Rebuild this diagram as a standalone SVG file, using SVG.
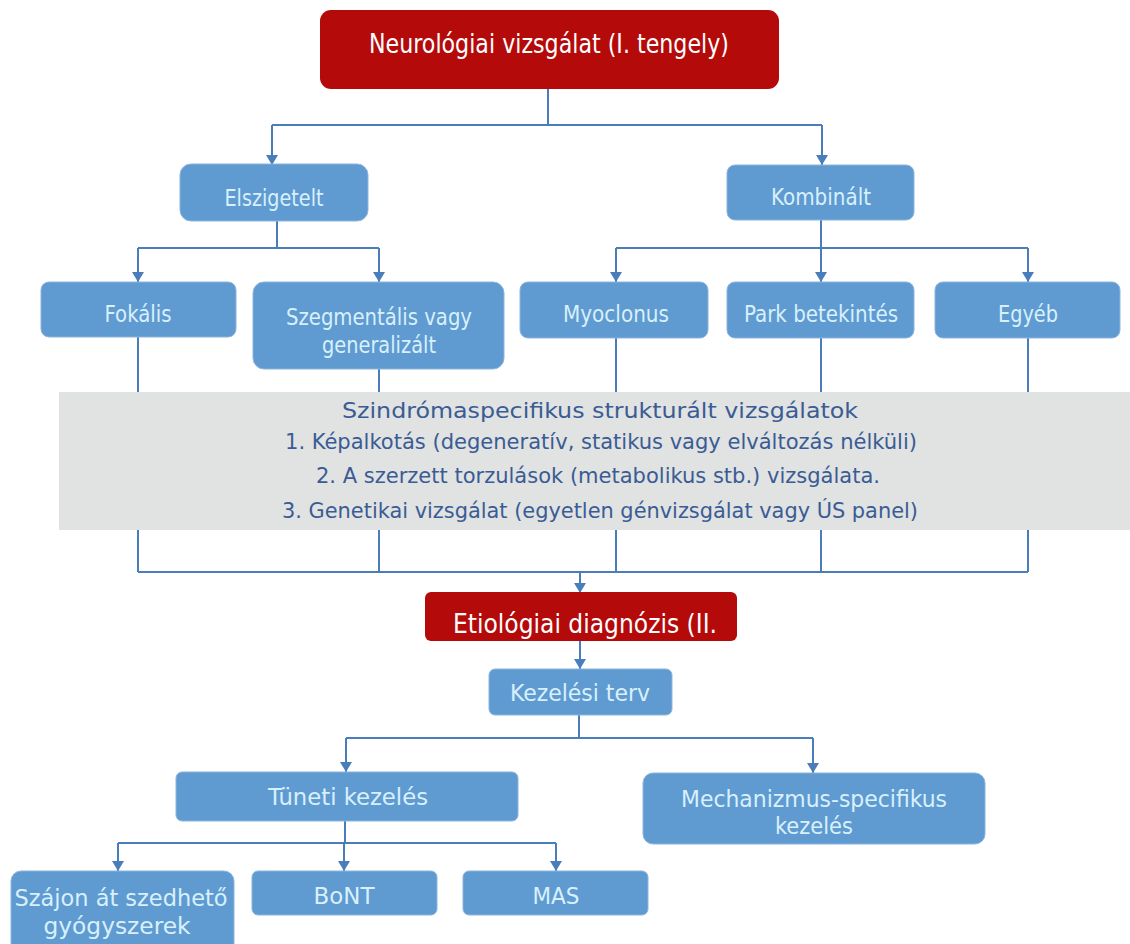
<svg xmlns="http://www.w3.org/2000/svg" width="1130" height="944" viewBox="0 0 1130 944">
<defs>
<marker id="arr" markerWidth="10" markerHeight="12" refX="10" refY="6" orient="auto" markerUnits="userSpaceOnUse" viewBox="0 0 10 12">
<path d="M0,0 L10,6 L0,12 Z" fill="#4A7EBB"/>
</marker>
<style>
.red{fill:#B50A0A;}
.blue{fill:#5F9BD1;stroke:#8DB5DE;stroke-width:1;}
.wt{fill:#FFFFFF;font-family:"DejaVu Sans Condensed","DejaVu Sans",sans-serif;font-size:26px;text-anchor:middle;}
.bt{fill:#D8F0FC;font-family:"DejaVu Sans Condensed","DejaVu Sans",sans-serif;font-size:23px;text-anchor:middle;}
.gt{fill:#3A5C94;font-family:"DejaVu Sans Condensed","DejaVu Sans",sans-serif;font-size:22px;text-anchor:middle;}
.c{fill:none;stroke:#4A7EBB;stroke-width:2;}
.ca{fill:none;stroke:#4A7EBB;stroke-width:2;marker-end:url(#arr);}
</style>
</defs>
<rect width="1130" height="944" fill="#FFFFFF"/>
<g id="connectors">
<path class="c" d="M548,89 V125 M272,125 H822"/>
<path class="ca" d="M272,125 V165"/>
<path class="ca" d="M822,125 V165"/>
<path class="c" d="M277,220 V248 M138,248 H379"/>
<path class="ca" d="M138,248 V282"/>
<path class="ca" d="M379,248 V282"/>
<path class="c" d="M821,220 V248 M616,248 H1028"/>
<path class="ca" d="M616,248 V282"/>
<path class="ca" d="M821,248 V282"/>
<path class="ca" d="M1028,248 V282"/>
<path class="c" d="M138,337 V572 M379,369 V572 M616,338 V572 M821,338 V572 M1028,338 V572 M138,572 H1028"/>
<path class="ca" d="M580,572 V593"/>
<path class="ca" d="M580,640 V669"/>
<path class="c" d="M579,715 V738 M346,738 H813"/>
<path class="ca" d="M346,738 V772"/>
<path class="ca" d="M813,738 V773"/>
<path class="c" d="M345,821 V843 M118,843 H556"/>
<path class="ca" d="M118,843 V871"/>
<path class="ca" d="M344,843 V871"/>
<path class="ca" d="M556,843 V871"/>
</g>
<g id="panel">
<rect x="59" y="392" width="1071" height="138" fill="#E1E2E2"/>
<text class="gt" x="600" y="418" textLength="516" lengthAdjust="spacingAndGlyphs">Szindrómaspecifikus strukturált vizsgálatok</text>
<text class="gt" x="601" y="449" textLength="632" lengthAdjust="spacingAndGlyphs">1. Képalkotás (degeneratív, statikus vagy elváltozás nélküli)</text>
<text class="gt" x="598" y="483" textLength="564" lengthAdjust="spacingAndGlyphs">2. A szerzett torzulások (metabolikus stb.) vizsgálata.</text>
<text class="gt" x="600" y="518" textLength="636" lengthAdjust="spacingAndGlyphs">3. Genetikai vizsgálat (egyetlen génvizsgálat vagy ÚS panel)</text>
</g>
<g id="n-neuro">
<rect class="red" x="320" y="10" width="459" height="79" rx="11"/>
<text class="wt" x="549" y="53" textLength="360" lengthAdjust="spacingAndGlyphs">Neurológiai vizsgálat (I. tengely)</text>
</g>
<g id="n-elszigetelt">
<rect class="blue" x="180" y="164" width="188" height="57" rx="11"/>
<text class="bt" x="274" y="206" textLength="99" lengthAdjust="spacingAndGlyphs">Elszigetelt</text>
</g>
<g id="n-kombinalt">
<rect class="blue" x="727" y="165" width="187" height="55" rx="8"/>
<text class="bt" x="821" y="205" textLength="100" lengthAdjust="spacingAndGlyphs">Kombinált</text>
</g>
<g id="n-fokalis">
<rect class="blue" x="41" y="282" width="195" height="55" rx="8"/>
<text class="bt" x="138" y="322" textLength="67" lengthAdjust="spacingAndGlyphs">Fokális</text>
</g>
<g id="n-szegmentalis">
<rect class="blue" x="253" y="282" width="251" height="87" rx="11"/>
<text class="bt" x="379" y="325" textLength="186" lengthAdjust="spacingAndGlyphs">Szegmentális vagy</text>
<text class="bt" x="379" y="353" textLength="114" lengthAdjust="spacingAndGlyphs">generalizált</text>
</g>
<g id="n-myoclonus">
<rect class="blue" x="520" y="282" width="188" height="56" rx="8"/>
<text class="bt" x="616" y="322" textLength="106" lengthAdjust="spacingAndGlyphs">Myoclonus</text>
</g>
<g id="n-park">
<rect class="blue" x="727" y="282" width="187" height="56" rx="8"/>
<text class="bt" x="821" y="322" textLength="154" lengthAdjust="spacingAndGlyphs">Park betekintés</text>
</g>
<g id="n-egyeb">
<rect class="blue" x="935" y="282" width="185" height="56" rx="8"/>
<text class="bt" x="1028" y="322" textLength="60" lengthAdjust="spacingAndGlyphs">Egyéb</text>
</g>
<g id="n-etiologiai">
<rect class="red" x="425" y="592" width="312" height="49" rx="6"/>
<text class="wt" x="585" y="633" textLength="264" lengthAdjust="spacingAndGlyphs">Etiológiai diagnózis (II.</text>
</g>
<g id="n-kezelesi">
<rect class="blue" x="489" y="669" width="183" height="46" rx="6"/>
<text class="bt" x="580" y="701" textLength="140" lengthAdjust="spacingAndGlyphs">Kezelési terv</text>
</g>
<g id="n-tuneti">
<rect class="blue" x="176" y="772" width="342" height="49" rx="6"/>
<text class="bt" x="348" y="805" textLength="160" lengthAdjust="spacingAndGlyphs">Tüneti kezelés</text>
</g>
<g id="n-mechanizmus">
<rect class="blue" x="643" y="773" width="342" height="71" rx="10"/>
<text class="bt" x="814" y="807" textLength="266" lengthAdjust="spacingAndGlyphs">Mechanizmus-specifikus</text>
<text class="bt" x="814" y="834" textLength="78" lengthAdjust="spacingAndGlyphs">kezelés</text>
</g>
<g id="n-szajon">
<rect class="blue" x="11" y="871" width="223" height="85" rx="10"/>
<text class="bt" x="121" y="906" textLength="213" lengthAdjust="spacingAndGlyphs">Szájon át szedhető</text>
<text class="bt" x="117" y="934" textLength="147" lengthAdjust="spacingAndGlyphs">gyógyszerek</text>
</g>
<g id="n-bont">
<rect class="blue" x="252" y="871" width="185" height="44" rx="6"/>
<text class="bt" x="344" y="904" textLength="61" lengthAdjust="spacingAndGlyphs">BoNT</text>
</g>
<g id="n-mas">
<rect class="blue" x="463" y="871" width="185" height="44" rx="6"/>
<text class="bt" x="556" y="904" textLength="47" lengthAdjust="spacingAndGlyphs">MAS</text>
</g>
</svg>
